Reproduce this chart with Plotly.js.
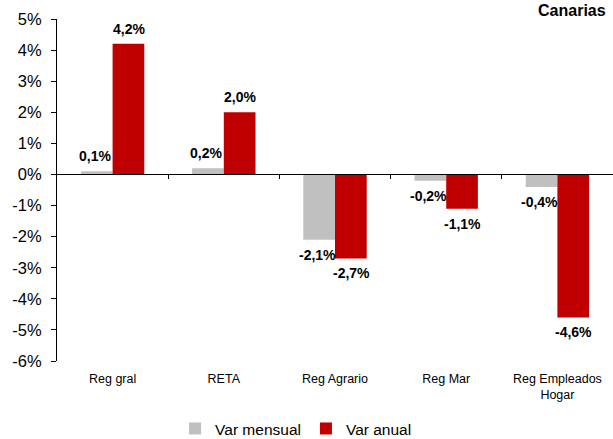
<!DOCTYPE html>
<html>
<head>
<meta charset="utf-8">
<script src="https://cdn.plot.ly/plotly-3.0.1.min.js"></script>
<style>html,body{margin:0;padding:0;background:#fff;}#chart{width:613px;height:439px;}</style>
</head>
<body>
<div id="chart"></div>
<script>
const categories = ["Reg gral", "RETA", "Reg Agrario", "Reg Mar", "Reg Empleados Hogar"];
const tickLabels = ["Reg gral", "RETA", "Reg Agrario", "Reg Mar", "Reg Empleados<br>Hogar"];
const varMensual = [0.1, 0.2, -2.1, -0.2, -0.4];
const varAnual = [4.2, 2.0, -2.7, -1.1, -4.6];
const seriesNames = ["Var mensual", "Var anual"];
const yTickVals = [5, 4, 3, 2, 1, 0, -1, -2, -3, -4, -5, -6];
const yTickLabels = ["5%", "4%", "3%", "2%", "1%", "0%", "-1%", "-2%", "-3%", "-4%", "-5%", "-6%"];
const boundaryTicks = [0.5, 1.5, 2.5, 3.5];

const yMin = -6, yMax = 5;
const FONT = "Arial, 'Liberation Sans', sans-serif";
const fmt = v => v.toFixed(1).replace('.', ',') + '%';

const traces = [
  {type: 'bar', name: seriesNames[0], x: categories, y: varMensual,
   marker: {color: '#C0C0C0'}, hoverinfo: 'skip'},
  {type: 'bar', name: seriesNames[1], x: categories, y: varAnual,
   marker: {color: '#C00000'}, hoverinfo: 'skip'},
  {type: 'scatter', mode: 'markers', x: [0], y: [0], xaxis: 'x2', yaxis: 'y',
   marker: {opacity: 0, size: 1}, showlegend: false, hoverinfo: 'skip'}
];

const annotations = [];
[varMensual, varAnual].forEach((arr, s) => {
  arr.forEach((v, i) => {
    annotations.push({
      x: categories[i], y: v, xref: 'x', yref: 'y',
      xshift: s === 0 ? -18 : 16,
      yshift: v >= 0 ? 15 : -15,
      text: '<b>' + fmt(v) + '</b>', showarrow: false,
      font: {family: FONT, size: 14, color: '#000'}
    });
  });
});

const layout = {
  width: 613, height: 439,
  margin: {l: 57, r: 0, t: 19, b: 78},
  paper_bgcolor: '#fff', plot_bgcolor: '#fff',
  font: {family: FONT, color: '#000'},
  title: {text: '<b>Canarias</b>', xref: 'container', yref: 'container',
          x: 0.988, xanchor: 'right', y: 0.977, yanchor: 'middle',
          font: {family: FONT, size: 16, color: '#000'}},
  barmode: 'group', bargap: 0.43, bargroupgap: 0,
  xaxis: {type: 'category', tickmode: 'array', tickvals: categories, ticktext: tickLabels,
          showline: false, ticks: '', showgrid: false, zeroline: false,
          ticklabelstandoff: 8,
          tickfont: {family: FONT, size: 12.5, color: '#000'}},
  xaxis2: {overlaying: 'x', anchor: 'free', position: (0 - yMin) / (yMax - yMin),
           range: [-0.5, categories.length - 0.5], side: 'bottom',
           showline: true, linecolor: '#000', linewidth: 1,
           ticks: 'outside', ticklen: 4, tickcolor: '#000',
           tickmode: 'array', tickvals: boundaryTicks,
           showticklabels: false, showgrid: false, zeroline: false, fixedrange: true},
  yaxis: {range: [yMin, yMax], tickmode: 'array', tickvals: yTickVals, ticktext: yTickLabels,
          showline: true, linecolor: '#000', linewidth: 1,
          ticks: 'outside', ticklen: 5, tickcolor: '#000',
          showgrid: false, zeroline: false, ticklabelstandoff: 6,
          tickfont: {family: FONT, size: 16.5, color: '#000'}},
  legend: {orientation: 'h', xref: 'paper', x: 0.43, xanchor: 'center',
           yref: 'container', y: 0.023, yanchor: 'middle',
           font: {family: FONT, size: 15.5, color: '#000'}, itemwidth: 30},
  annotations: annotations,
  showlegend: true
};

Plotly.newPlot('chart', traces, layout, {displayModeBar: false, staticPlot: true});
</script>
</body>
</html>
